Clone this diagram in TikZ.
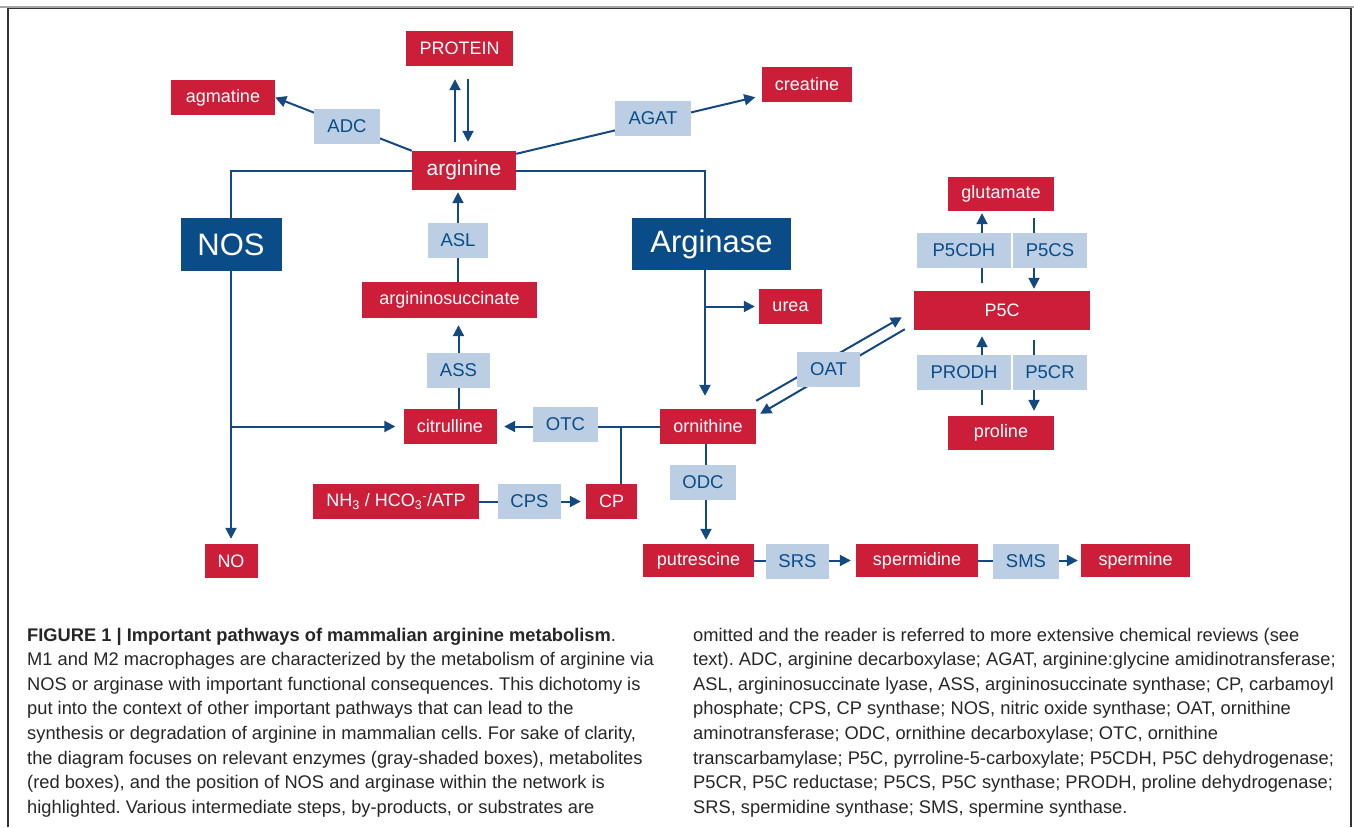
\documentclass[tikz,border=0pt]{standalone}
\usepackage{fontspec}
\setmainfont{Liberation Sans}
\usetikzlibrary{arrows.meta}
\definecolor{myred}{RGB}{204,30,56}
\definecolor{enzfill}{RGB}{187,206,228}
\definecolor{myblue}{RGB}{10,76,135}
\definecolor{lineblue}{RGB}{20,72,128}
\pgfdeclarelayer{background}
\pgfsetlayers{background,main}
\tikzset{
  met/.style={fill=myred, text=white, inner sep=0pt, minimum height=35pt, font=\fontsize{18}{20}\selectfont},
  enz/.style={fill=enzfill, text=myblue, inner sep=0pt, minimum height=35pt, font=\fontsize{18.5}{20}\selectfont},
  big/.style={fill=myblue, text=white, inner sep=0pt, font=\fontsize{31}{34}\selectfont},
  conn/.style={draw=lineblue, line width=2pt},
  arr/.style={conn, -{Triangle[length=11pt,width=11pt]}},
  captxt/.style={anchor=base west, inner sep=0pt, font=\fontsize{18.3}{24}\selectfont, text=black!85},
}
\frenchspacing
\begin{document}
\frenchspacing
\begin{tikzpicture}[x=1pt,y=-1pt]
\useasboundingbox (0,0) rectangle (1354,827);
% frame
\draw[gray!70, line width=1.5pt] (0,7) -- (1354,7);
\draw[black!80, line width=1.2pt] (8,827) -- (8,8.5) -- (1351,8.5) -- (1351,827);

% metabolites
\node[met, minimum width=107pt] (protein) at (459.5,48.5) {PROTEIN};
\node[met, minimum width=104pt] (agmatine) at (223,97.5) {agmatine};
\node[met, minimum width=104pt, minimum height=39pt, font=\fontsize{21}{24}\selectfont] (arginine) at (464,170.5) {arginine};
\node[met, minimum width=175pt, minimum height=36pt] (argsucc) at (449.5,300) {argininosuccinate};
\node[met, minimum width=90pt] (creatine) at (807,84.5) {creatine};
\node[met, minimum width=106pt, minimum height=34pt] (glutamate) at (1001,194) {glutamate};
\node[met, minimum width=176pt, minimum height=39pt] (P5C) at (1002,310.5) {P5C};
\node[met, minimum width=63pt] (urea) at (790.5,306.5) {urea};
\node[met, minimum width=106pt, minimum height=34pt] (proline) at (1001,433) {proline};
\node[met, minimum width=96pt] (ornithine) at (708,426.5) {ornithine};
\node[met, minimum width=93pt] (citrulline) at (450,426.5) {citrulline};
\node[met, minimum width=166pt] (nh3) at (396,501.5) {NH\textsubscript{3} / HCO\textsubscript{3}\textsuperscript{-}/ATP};
\node[met, minimum width=51pt] (cp) at (611.5,501.5) {CP};
\node[met, minimum width=53pt, minimum height=34pt] (no) at (231,561) {NO};
\node[met, minimum width=111pt, minimum height=33pt] (putrescine) at (698.5,560.5) {putrescine};
\node[met, minimum width=122pt, minimum height=33pt] (spermidine) at (917,560.5) {spermidine};
\node[met, minimum width=109pt, minimum height=33pt] (spermine) at (1135.5,560.5) {spermine};

% enzymes
\node[enz, minimum width=66pt] (adc) at (347,126.5) {ADC};
\node[enz, minimum width=76pt] (agat) at (653,118.5) {AGAT};
\node[enz, minimum width=60pt] (asl) at (458,240.5) {ASL};
\node[enz, minimum width=63pt] (ass) at (458.5,370.5) {ASS};
\node[enz, minimum width=65pt] (otc) at (565.5,424.5) {OTC};
\node[enz, minimum width=63pt] (cps) at (529.5,501.5) {CPS};
\node[enz, minimum width=66pt] (odc) at (703,482.5) {ODC};
\node[enz, minimum width=63pt] (oat) at (828.5,369.5) {OAT};
\node[enz, minimum width=94pt] (p5cdh) at (964,250.5) {P5CDH};
\node[enz, minimum width=74pt] (p5cs) at (1050,250.5) {P5CS};
\node[enz, minimum width=94pt] (prodh) at (964,372.5) {PRODH};
\node[enz, minimum width=74pt] (p5cr) at (1050,372.5) {P5CR};
\node[enz, minimum width=63pt] (srs) at (797.5,561.5) {SRS};
\node[enz, minimum width=66pt] (sms) at (1026,561.5) {SMS};

% key enzymes
\node[big, minimum width=101pt, minimum height=53pt] (nos) at (231,244.5) {NOS};
\node[big, minimum width=159pt, minimum height=52pt] (arginase) at (711.5,244) {Arginase};

\coordinate (nosbr) at (231,426.5);
\coordinate (ureabr) at (705,306.5);
\coordinate (cpbr) at (621,426.5);

\begin{pgfonlayer}{background}
\draw[arr] ([xshift=-9pt,yshift=9pt]arginine.north) -- ([xshift=-4.5pt,yshift=-13pt]protein.south);
\draw[arr] ([xshift=8.5pt,yshift=-13pt]protein.south) -- ([xshift=4pt,yshift=9pt]arginine.north);
\draw[arr] (arginine.north west) -- (agmatine.east);
\draw[arr] ([yshift=-3pt]arginine.north east) -- ([xshift=-6.5pt,yshift=5pt]creatine.south west);
\draw[arr] (arginine.west) -| ([yshift=5pt]no.north);
\draw[arr] (nosbr) -- ([xshift=-8pt]citrulline.west);
\draw[arr] (arginine.east) -| ([xshift=-3pt,yshift=13pt]ornithine.north);
\draw[arr] (ureabr) -- ([xshift=-4pt]urea.west);
\draw[arr] (ornithine.west) -- ([xshift=7.5pt]citrulline.east);
\draw[conn] (cpbr) -- (cpbr |- cp.north);
\draw[arr] (nh3.east) -- ([xshift=-5pt]cp.west);
\draw[arr, shorten >=7pt] (ass.center |- citrulline.north) -- (ass.center |- argsucc.south);
\draw[arr, shorten >=2pt] (asl.center |- argsucc.north) -- (asl.center |- arginine.south);
\draw[arr] ([yshift=8pt]ornithine.north east) -- ([xshift=-12pt,yshift=13pt]P5C.south west);
\draw[arr] ([xshift=-9pt,yshift=1pt]P5C.south west) -- ([xshift=4pt,yshift=-5pt]ornithine.north east);
\draw[arr] ([xshift=-20pt,yshift=8pt]P5C.north) -- ([xshift=-19pt,yshift=-2pt]glutamate.south);
\draw[arr] ([xshift=33pt,yshift=-7pt]glutamate.south) -- ([xshift=32pt,yshift=2pt]P5C.north);
\draw[arr] ([xshift=-19pt,yshift=11pt]proline.north) -- ([xshift=-20pt,yshift=-6pt]P5C.south);
\draw[arr] ([xshift=32pt,yshift=-10pt]P5C.south) -- ([xshift=33pt,yshift=5pt]proline.north);
\draw[arr] ([xshift=-2pt]ornithine.south) -- ([xshift=7.5pt,yshift=4pt]putrescine.north);
\draw[arr] (putrescine.east) -- ([xshift=-5pt]spermidine.west);
\draw[arr] (spermidine.east) -- ([xshift=-3pt]spermine.west);
\end{pgfonlayer}

% caption, left column
\node[captxt] (l1) at (27,641) {\textbf{FIGURE 1 | Important pathways of mammalian arginine metabolism}.};
\node[captxt] (l2) at (27,665.6) {M1 and M2 macrophages are characterized by the metabolism of arginine via};
\node[captxt] (l3) at (27,690.2) {NOS or arginase with important functional consequences. This dichotomy is};
\node[captxt] (l4) at (27,714.8) {put into the context of other important pathways that can lead to the};
\node[captxt] (l5) at (27,739.4) {synthesis or degradation of arginine in mammalian cells. For sake of clarity,};
\node[captxt] (l6) at (27,764) {the diagram focuses on relevant enzymes (gray-shaded boxes), metabolites};
\node[captxt] (l7) at (27,788.6) {(red boxes), and the position of NOS and arginase within the network is};
\node[captxt] (l8) at (27,813.2) {highlighted. Various intermediate steps, by-products, or substrates are};
% caption, right column
\node[captxt] (r1) at (693,641) {omitted and the reader is referred to more extensive chemical reviews (see};
\node[captxt] (r2) at (693,665.6) {text). ADC, arginine decarboxylase; AGAT, arginine:glycine amidinotransferase;};
\node[captxt] (r3) at (693,690.2) {ASL, argininosuccinate lyase, ASS, argininosuccinate synthase; CP, carbamoyl};
\node[captxt] (r4) at (693,714.8) {phosphate; CPS, CP synthase; NOS, nitric oxide synthase; OAT, ornithine};
\node[captxt] (r5) at (693,739.4) {aminotransferase; ODC, ornithine decarboxylase; OTC, ornithine};
\node[captxt] (r6) at (693,764) {transcarbamylase; P5C, pyrroline-5-carboxylate; P5CDH, P5C dehydrogenase;};
\node[captxt] (r7) at (693,788.6) {P5CR, P5C reductase; P5CS, P5C synthase; PRODH, proline dehydrogenase;};
\node[captxt] (r8) at (693,813.2) {SRS, spermidine synthase; SMS, spermine synthase.};
\end{tikzpicture}
\end{document}
